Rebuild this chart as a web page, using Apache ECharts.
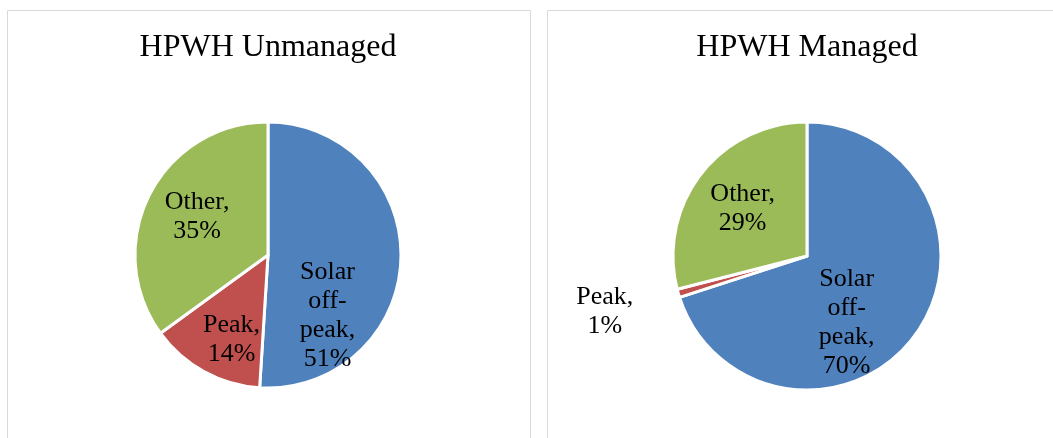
<!DOCTYPE html>
<html lang="en">
<head>
    <meta charset="utf-8">
    <title>HPWH Unmanaged / Managed</title>
    <style>
        html, body { margin: 0; padding: 0; background: #fff; }
        #main { width: 1053px; height: 438px; }
    </style>
</head>
<body>
    <div id="main"></div>
    <script src="https://cdn.jsdelivr.net/npm/echarts@6/dist/echarts.min.js"></script>
    <script type="text/javascript">
        // data
        var categories = ['Solar off-peak', 'Peak', 'Other'];
        var unmanagedValues = [51, 14, 35];
        var managedValues = [70, 1, 29];
        var chartTitles = ['HPWH Unmanaged', 'HPWH Managed'];

        var colorList = ['#4F81BD', '#C0504D', '#9BBB59'];
        var serif = '"Liberation Serif", "Times New Roman", serif';

        // label nudges so text sits where Excel put it
        var unmanagedOffsets = [[-10, 58], [-3, 24], [-9, -7]];
        var managedOffsets = [[-17, 26], [-135, 36], [-9, -4]];

        function labelText(name, value) {
            if (name == 'Solar off-peak') return 'Solar\noff-\npeak,\n' + value + '%';
            return name + ',\n' + value + '%';
        }

        function buildData(values, offsets) {
            return categories.map(function (name, i) {
                return {
                    name: name,
                    value: values[i],
                    label: { offset: offsets[i] }
                };
            });
        }

        var myChart = echarts.init(document.getElementById('main'));

        var pieDefaults = {
            type: 'pie',
            startAngle: 90,
            clockwise: true,
            silent: true,
            itemStyle: {
                borderColor: '#fff',
                borderWidth: 3
            },
            label: {
                show: true,
                position: 'inside',
                color: '#000',
                fontFamily: serif,
                fontSize: 26,
                lineHeight: 29,
                align: 'center',
                formatter: function (p) {
                    return labelText(p.name, p.value);
                }
            },
            labelLine: { show: false },
            emphasis: { disabled: true }
        };

        var titleStyle = { fontFamily: serif, fontSize: 32, fontWeight: 'normal', color: '#000' };

        var option = {
            animation: false,
            color: colorList,
            graphic: [
                {
                    type: 'rect',
                    shape: { x: 7.5, y: 10.5, width: 523, height: 440 },
                    style: { fill: 'none', stroke: '#D9D9D9', lineWidth: 1 }
                },
                {
                    type: 'rect',
                    shape: { x: 547.5, y: 10.5, width: 520, height: 440 },
                    style: { fill: 'none', stroke: '#D9D9D9', lineWidth: 1 }
                }
            ],
            title: [
                {
                    text: chartTitles[0],
                    left: 263,
                    top: 27,
                    textAlign: 'center',
                    textStyle: titleStyle
                },
                {
                    text: chartTitles[1],
                    left: 802,
                    top: 27,
                    textAlign: 'center',
                    textStyle: titleStyle
                }
            ],
            series: [
                Object.assign({}, pieDefaults, {
                    name: chartTitles[0],
                    center: [268, 255],
                    radius: 133,
                    data: buildData(unmanagedValues, unmanagedOffsets)
                }),
                Object.assign({}, pieDefaults, {
                    name: chartTitles[1],
                    center: [807, 256],
                    radius: 134,
                    data: buildData(managedValues, managedOffsets)
                })
            ]
        };
        myChart.setOption(option);
    </script>
</body>
</html>
